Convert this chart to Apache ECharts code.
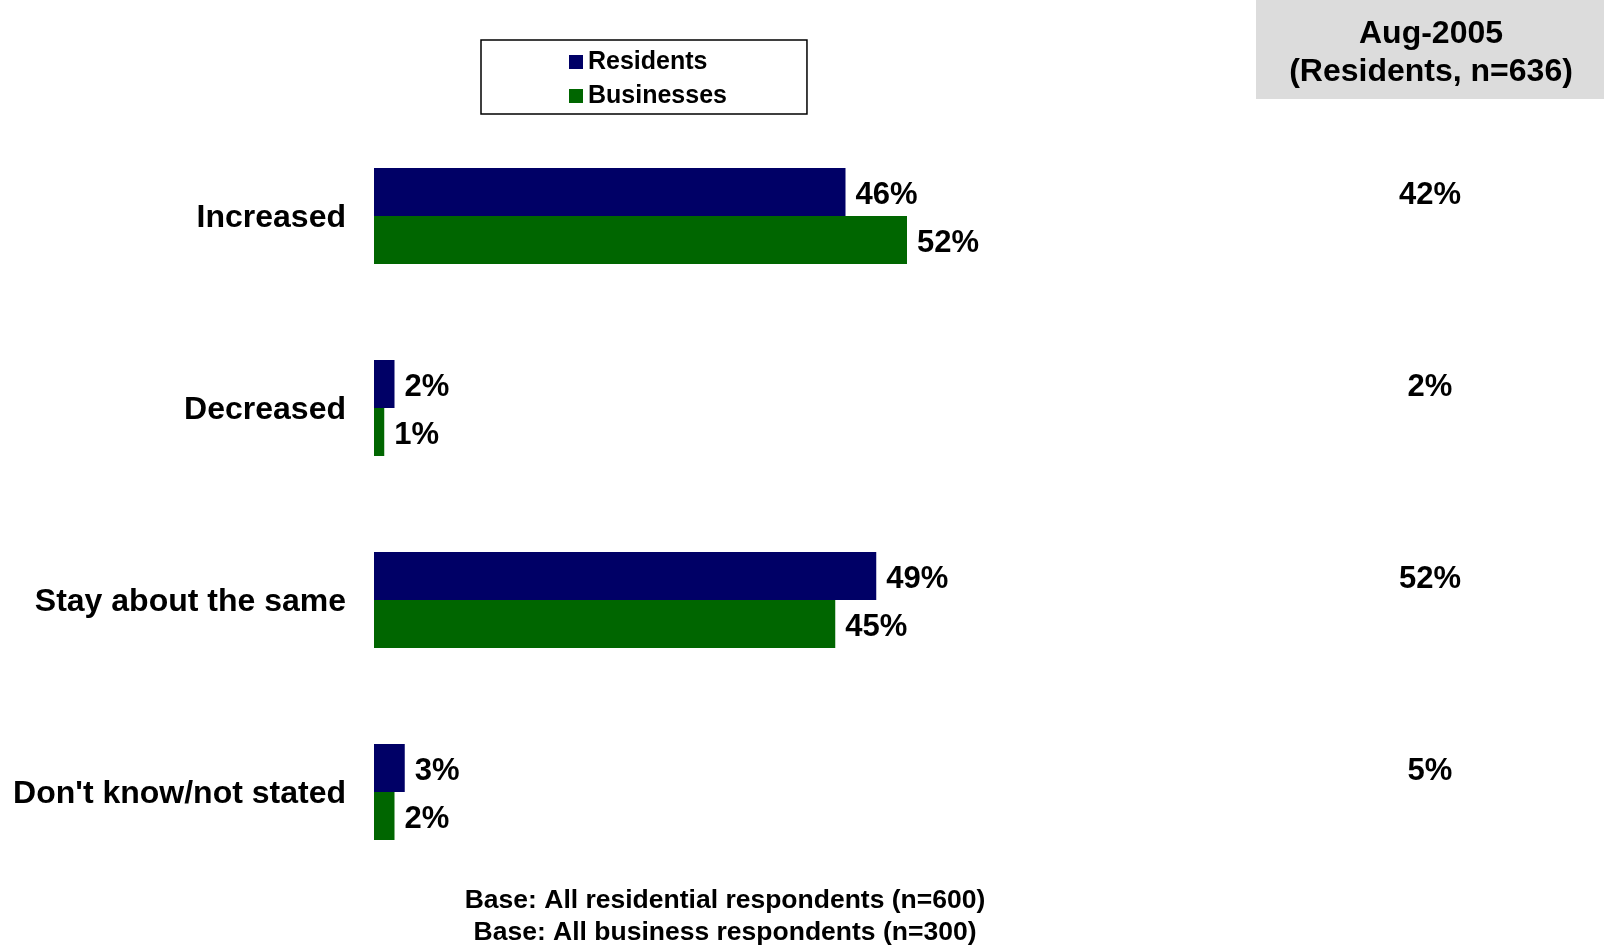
<!DOCTYPE html>
<html>
<head>
<meta charset="utf-8">
<script src="https://cdn.jsdelivr.net/npm/echarts@6/dist/echarts.min.js"></script>
<style>
  html, body { margin: 0; padding: 0; background: #ffffff; }
  #chart { width: 1604px; height: 945px; }
</style>
</head>
<body>
<div id="chart"></div>
<script>
// Survey answers, percentages
const categories = ['Increased', 'Decreased', 'Stay about the same', "Don't know/not stated"];
const residents = [46, 2, 49, 3];
const businesses = [52, 1, 45, 2];
const aug2005 = [42, 2, 52, 5];
const seriesNames = ['Residents', 'Businesses'];
const compareHeader = ['Aug-2005', '(Residents, n=636)'];
const baseNotes = ['Base: All residential respondents (n=600)', 'Base: All business respondents (n=300)'];

const FONT = "'Liberation Sans', Arial, sans-serif";
const NAVY = '#000066';
const GREEN = '#006600';

const chart = echarts.init(document.getElementById('chart'), null, { renderer: 'canvas' });

const valueLabel = {
  show: true,
  position: 'right',
  distance: 10,
  offset: [0, 3],
  formatter: p => p.value + '%',
  color: '#000',
  fontFamily: FONT,
  fontWeight: 'bold',
  fontSize: 31
};

function noteText(x, y, text, size) {
  return {
    type: 'text',
    x: x,
    y: y,
    z: 1,
    style: {
      text: text,
      textAlign: 'center',
      textVerticalAlign: 'middle',
      fontFamily: FONT,
      fontWeight: 'bold',
      fontSize: size,
      fill: '#000'
    }
  };
}

chart.setOption({
  backgroundColor: '#ffffff',
  animation: false,
  textStyle: { fontFamily: FONT },
  legend: {
    data: seriesNames,
    orient: 'vertical',
    left: 481,
    top: 40,
    align: 'left',
    icon: 'rect',
    itemWidth: 14,
    itemHeight: 14,
    itemGap: 8,
    padding: [9, 80, 5, 88],
    borderColor: '#000',
    borderWidth: 1.5,
    textStyle: { fontFamily: FONT, fontWeight: 'bold', fontSize: 25, lineHeight: 26, color: '#000' }
  },
  grid: [
    { left: 374, width: 1025, top: 120, height: 768 },
    { left: 1256, width: 348, top: 120, height: 768 }
  ],
  xAxis: [
    { gridIndex: 0, type: 'value', min: 0, max: 100, show: false },
    { gridIndex: 1, type: 'category', data: [compareHeader[0]], show: false }
  ],
  yAxis: [
    {
      gridIndex: 0,
      type: 'category',
      data: categories,
      inverse: true,
      axisLine: { show: false },
      axisTick: { show: false },
      axisLabel: {
        margin: 28,
        formatter: v => '{c|' + v + '}',
        rich: {
          c: {
            color: '#000',
            fontFamily: FONT,
            fontWeight: 'bold',
            fontSize: 32,
            lineHeight: 32,
            padding: [5, 0, 0, 0]
          }
        }
      }
    },
    { gridIndex: 1, type: 'category', data: categories, inverse: true, show: false }
  ],
  series: [
    {
      name: seriesNames[0],
      type: 'bar',
      xAxisIndex: 0,
      yAxisIndex: 0,
      data: residents,
      itemStyle: { color: NAVY },
      barWidth: 48,
      barGap: '0%',
      label: valueLabel
    },
    {
      name: seriesNames[1],
      type: 'bar',
      xAxisIndex: 0,
      yAxisIndex: 0,
      data: businesses,
      itemStyle: { color: GREEN },
      barWidth: 48,
      barGap: '0%',
      label: valueLabel
    },
    {
      // earlier wave shown as a text column beside the bars
      name: compareHeader[0],
      type: 'scatter',
      xAxisIndex: 1,
      yAxisIndex: 1,
      symbolSize: 0,
      itemStyle: { opacity: 1, color: '#000' },
      data: aug2005.map((v, i) => [compareHeader[0], categories[i], v]),
      encode: { x: 0, y: 1 },
      label: {
        show: true,
        position: 'inside',
        offset: [0, -21],
        formatter: p => p.value[2] + '%',
        color: '#000',
        fontFamily: FONT,
        fontWeight: 'bold',
        fontSize: 31
      },
      silent: true
    }
  ],
  graphic: [
    {
      type: 'rect',
      left: 1256,
      top: 0,
      shape: { width: 348, height: 99 },
      style: { fill: '#dcdcdc' },
      z: 0
    },
    noteText(1431, 34, compareHeader[0], 32),
    noteText(1431, 72, compareHeader[1], 32),
    noteText(725, 901, baseNotes[0], 26.5),
    noteText(725, 933, baseNotes[1], 26.5)
  ]
});
</script>
</body>
</html>
